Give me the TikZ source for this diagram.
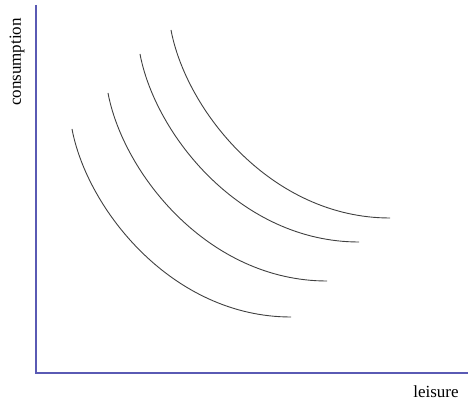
\documentclass[tikz,border=0pt]{standalone}
\usepackage{fontspec}
\setmainfont{Liberation Serif}
\definecolor{axiscol}{RGB}{90,90,180}
\begin{document}
\begin{tikzpicture}[x=1pt,y=-1pt,
  axis/.style={draw=axiscol,line width=1.8pt},
  indiff/.style={draw=black!75,line width=0.9pt},
  lbl/.style={font=\fontsize{17}{20}\selectfont,inner sep=0pt}]
\useasboundingbox (0,0) rectangle (468,403);
\coordinate (top) at (36,5);
\coordinate (origin) at (36,373);
\coordinate (right) at (468,373);
\draw[axis] (top) -- (origin) -- (right);
\node[lbl,rotate=90] (ylab) at (17,62) {consumption};
\node[lbl] (xlab) at (436,392) {leisure};
\foreach \x/\y [count=\i] in {72/129,108/93,140/54,171/30}{
  \draw[indiff] (\x,\y) .. controls ++(15,80) and ++(-119,0) .. ++(219,188);
}
\end{tikzpicture}
\end{document}
